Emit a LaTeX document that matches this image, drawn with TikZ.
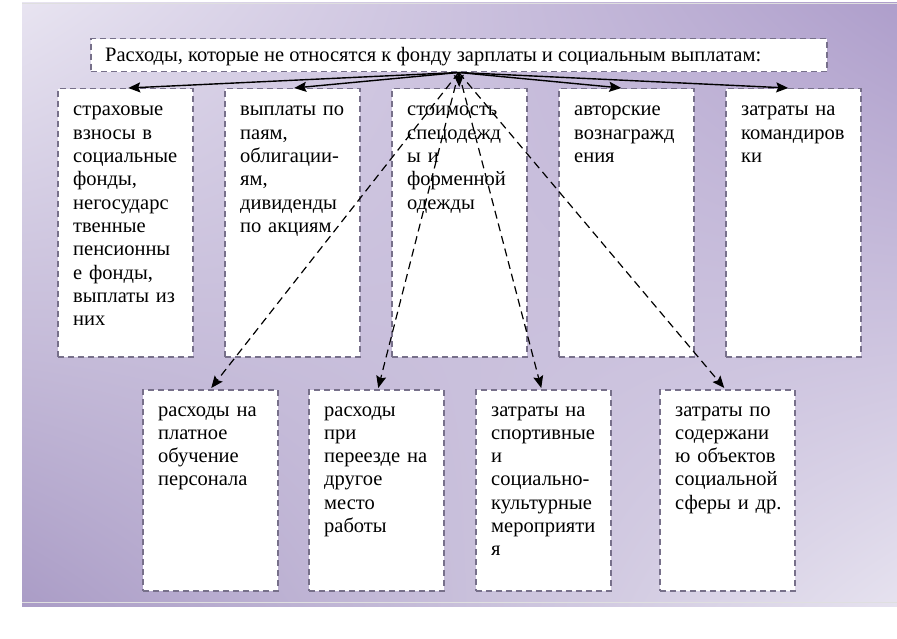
\documentclass[tikz,border=0pt]{standalone}
\usepackage{fontspec}
\setmainfont{Liberation Serif}
\usetikzlibrary{arrows.meta,calc,shadings}
\definecolor{bgul}{HTML}{E8E4F1}
\definecolor{bgur}{HTML}{AE9ECB}
\definecolor{bgll}{HTML}{AA9CC6}
\definecolor{bglr}{HTML}{E6E2EF}
\definecolor{boxgray}{HTML}{77708A}
\begin{document}
\begin{tikzpicture}[x=1pt,y=-1pt,
  box/.style={draw=boxgray, fill=white, dash pattern=on 6pt off 4pt, line width=1.5pt,
    minimum width=135pt, inner sep=0pt, anchor=north west},
  txt/.style={anchor=base west, inner sep=0pt, text width=125pt, align=left,
    font=\fontsize{20.5}{23.3}\selectfont},
  solidarrow/.style={line width=1.4pt, -{Stealth[length=12pt,width=10pt,inset=2pt]}},
  dasharrow/.style={line width=1.2pt, dash pattern=on 8pt off 5pt,
    -{Stealth[length=12pt,width=10pt,inset=2pt]}}
]
\useasboundingbox (0,0) rectangle (897,639);
\fill[white] (0,0) rectangle (897,639);
\shade[upper left=bgul, upper right=bgur, lower left=bgll, lower right=bglr]
  (22,3) rectangle (897,606);
\draw[white!75!gray, line width=0.8pt] (22,3) -- (897,3);
\draw[white!75!gray, line width=0.8pt] (22,602) -- (897,602);

% title
\node[box, minimum width=736pt, minimum height=33pt] (title) at (90,38) {};
\node[anchor=base west, inner sep=0pt, font=\fontsize{20.5}{23.3}\selectfont] (tt)
  at ($(title.north west)+(15,24)$) {Расходы, которые не относятся к фонду зарплаты и социальным выплатам:};

% top row
\node[box, minimum height=268pt] (b1) at (57,88) {};
\node[box, minimum height=268pt] (b2) at (224,88) {};
\node[box, minimum height=268pt] (b3) at (391,88) {};
\node[box, minimum height=268pt] (b4) at (558,88) {};
\node[box, minimum height=268pt] (b5) at (725,88) {};

\node[txt] (t1) at ($(b1.north west)+(16,28)$) {страховые\\взносы в\\социальные\\фонды,\\негосударс\\твенные\\пенсионны\\е фонды,\\выплаты из\\них};
\node[txt] (t2) at ($(b2.north west)+(16,28)$) {выплаты по\\паям,\\облигации-\\ям,\\дивиденды\\по акциям};
\node[txt] (t3) at ($(b3.north west)+(16,28)$) {стоимость\\спецодежд\\ы и\\форменной\\одежды};
\node[txt] (t4) at ($(b4.north west)+(16,28)$) {авторские\\вознагражд\\ения};
\node[txt] (t5) at ($(b5.north west)+(16,28)$) {затраты на\\командиров\\ки};

% bottom row
\node[box, minimum height=201pt] (c1) at (142,389) {};
\node[box, minimum height=201pt] (c2) at (308,389) {};
\node[box, minimum height=201pt] (c3) at (475,389) {};
\node[box, minimum height=201pt] (c4) at (659,389) {};

\node[txt] (u1) at ($(c1.north west)+(16,27)$) {расходы на\\платное\\обучение\\персонала};
\node[txt] (u2) at ($(c2.north west)+(16,27)$) {расходы\\при\\переезде на\\другое\\место\\работы};
\node[txt] (u3) at ($(c3.north west)+(16,27)$) {затраты на\\спортивные\\и\\социально-\\культурные\\мероприяти\\я};
\node[txt] (u4) at ($(c4.north west)+(16,27)$) {затраты по\\содержани\\ю объектов\\социальной\\сферы и др.};

% arrows
\draw[solidarrow] (title.south) -- ($(b1.north)+(3,0)$);
\draw[solidarrow] (title.south) -- ($(b2.north)+(2,0)$);
\draw[solidarrow] (title.south) -- ($(b3.north)+(0,-1)$);
\draw[solidarrow] (title.south) -- ($(b4.north)+(-5,0)$);
\draw[solidarrow] (title.south) -- ($(b5.north)+(-5,0)$);

\draw[dasharrow] (title.south) -- ($(c1.north)+(1,-1)$);
\draw[dasharrow] (title.south) -- ($(c2.north)+(2,-1)$);
\draw[dasharrow] (title.south) -- ($(c3.north)+(-2,-1)$);
\draw[dasharrow] (title.south) -- ($(c4.north)+(-3,-1)$);
\end{tikzpicture}
\end{document}
